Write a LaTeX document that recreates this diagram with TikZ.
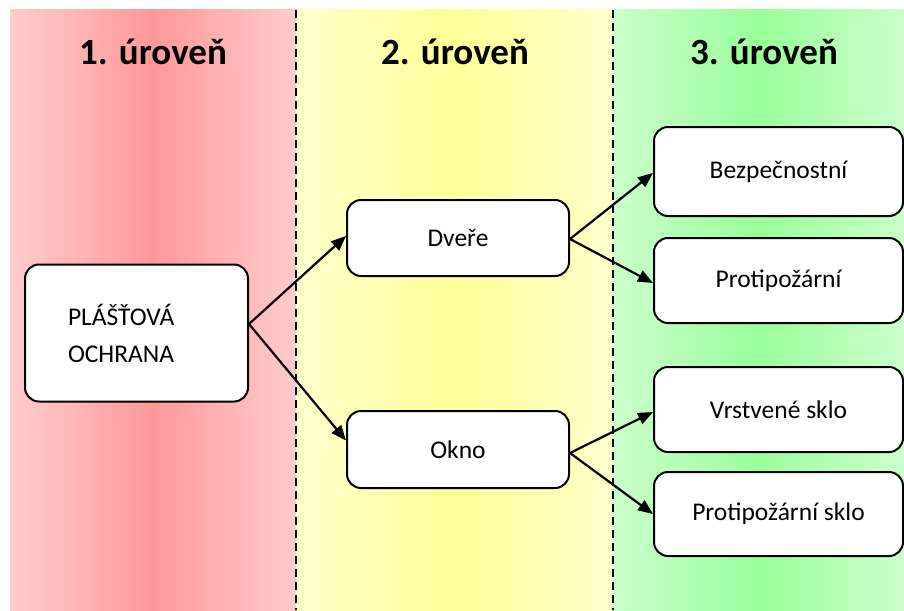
\documentclass[tikz,border=0pt]{standalone}
\usepackage{fontspec}
\setmainfont{Carlito}
\usetikzlibrary{arrows.meta}

\definecolor{redEdge}{HTML}{FFCCCC}
\definecolor{redMid}{HTML}{FF9999}
\definecolor{yelEdge}{HTML}{FFFFCC}
\definecolor{yelMid}{HTML}{FFFF99}
\definecolor{grnEdge}{HTML}{CCFFCC}
\definecolor{grnMid}{HTML}{99FF99}

\begin{document}
\begin{tikzpicture}[x=1pt,y=-1pt,
  box/.style={draw=black, line width=2pt, rounded corners=14pt, fill=white,
              font=\fontsize{25.5}{37}\selectfont, inner sep=0pt, align=center},
  level/.style={font=\fontsize{37}{44}\selectfont\bfseries, inner sep=0pt},
  conn/.style={line width=2.2pt, -{Triangle[length=15pt,width=12pt]}},
  divider/.style={line width=1.3pt, dash pattern=on 8pt off 5pt}]
\useasboundingbox (0,0) rectangle (904,610);

% three level bands with horizontal gradients
\shade[left color=redEdge, right color=redEdge, middle color=redMid] (10,10) rectangle (296,610);
\shade[left color=yelEdge, right color=yelEdge, middle color=yelMid] (296,10) rectangle (613,610);
\shade[left color=grnEdge, right color=grnEdge, middle color=grnMid] (613,10) rectangle (904,610);

% band separators
\coordinate (d1t) at (296,10); \coordinate (d1b) at (296,610);
\coordinate (d2t) at (613,10); \coordinate (d2b) at (613,610);
\draw[divider] (d1t) -- (d1b);
\draw[divider] (d2t) -- (d2b);

% level headings
\node[level] (h1) at (153,52) {1. úroveň};
\node[level] (h2) at (455,52) {2. úroveň};
\node[level] (h3) at (764,52) {3. úroveň};

% level 1
\node[box, minimum width=223pt, minimum height=137pt, text width=137pt, align=left]
  (plast) at (136.5,333) {PLÁŠŤOVÁ\\OCHRANA};

% level 2
\node[box, minimum width=222pt, minimum height=76pt] (dvere) at (458,238) {Dveře};
\node[box, minimum width=222pt, minimum height=77pt] (okno) at (458,449.5) {Okno};

% level 3
\node[box, minimum width=249pt, minimum height=89pt] (bezp) at (778.5,171.5) {Bezpečnostní};
\node[box, minimum width=249pt, minimum height=85pt] (proti) at (778.5,280.5) {Protipožární};
\node[box, minimum width=249pt, minimum height=85pt] (vrst) at (778.5,409.5) {Vrstvené sklo};
\node[box, minimum width=249pt, minimum height=84pt] (protisklo) at (778.5,514) {Protipožární sklo};

% connectors
\draw[conn] ([yshift=9pt]plast.east) -- ([yshift=2pt]dvere.west);
\draw[conn] ([yshift=9pt]plast.east) -- ([yshift=9pt]okno.west);
\draw[conn] ([yshift=-1pt]dvere.east) -- ([yshift=-1.5pt]bezp.west);
\draw[conn] ([yshift=-1pt]dvere.east) -- ([yshift=-2.5pt]proti.west);
\draw[conn] ([yshift=-3.5pt]okno.east) -- ([yshift=-2.5pt]vrst.west);
\draw[conn] ([yshift=-3.5pt]okno.east) -- ([yshift=0pt]protisklo.west);
\end{tikzpicture}
\end{document}
